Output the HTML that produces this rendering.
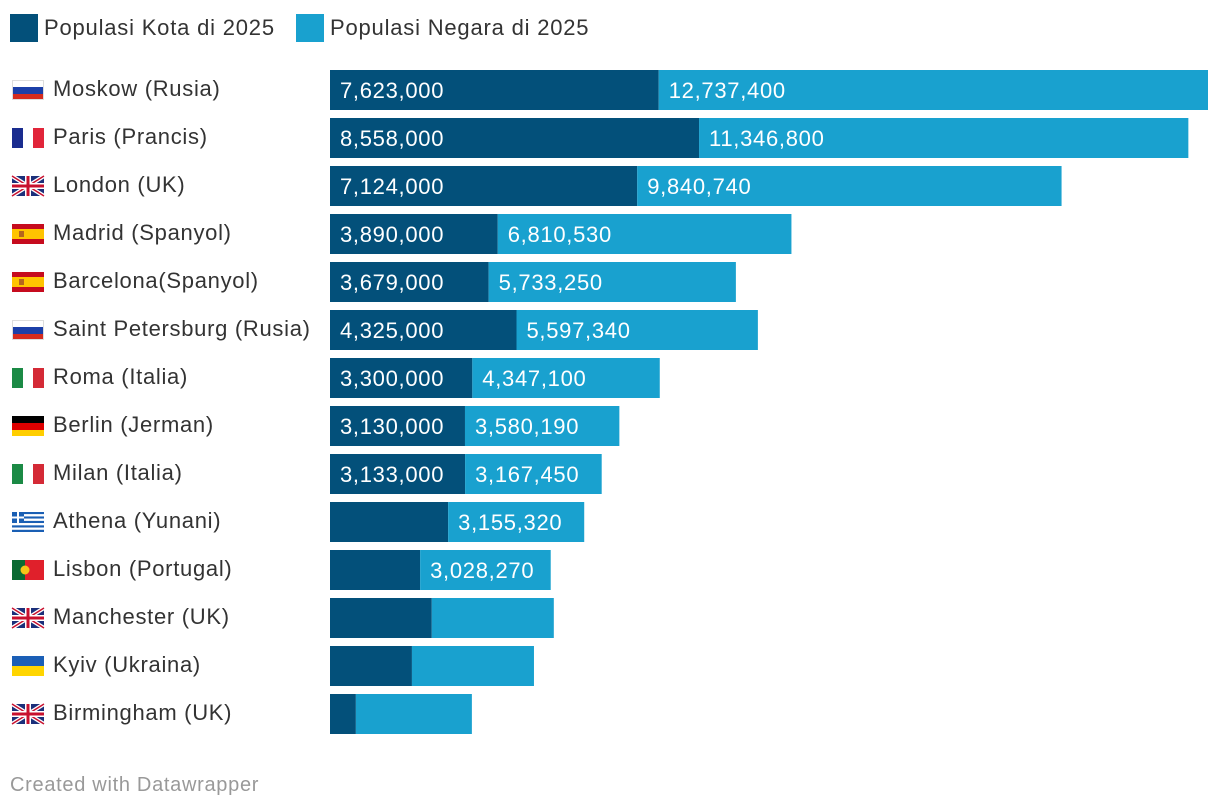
<!DOCTYPE html>
<html><head><meta charset="utf-8">
<style>
body{margin:0;width:1220px;height:810px;background:#fff;font-family:"Liberation Sans",sans-serif;overflow:hidden;position:relative}
.leg{position:absolute;top:14px;display:flex;align-items:center;font-size:22px;color:#333;letter-spacing:0.8px}
.sw{width:28px;height:28px;margin-right:6px}
#foot{position:absolute;left:10px;top:774px;font-size:20px;color:#999;letter-spacing:0.7px}
text{letter-spacing:0.7px}
</style></head><body>
<div class="leg" style="left:10px"><div class="sw" style="background:#03507a"></div>Populasi Kota di 2025</div>
<div class="leg" style="left:296px"><div class="sw" style="background:#19a1cf"></div>Populasi Negara di 2025</div>
<svg id="chart" width="1220" height="760" style="position:absolute;left:0;top:0"></svg>
<div id="foot">Created with Datawrapper</div>
<script>
const categories=["Moskow (Rusia)","Paris (Prancis)","London (UK)","Madrid (Spanyol)","Barcelona(Spanyol)","Saint Petersburg (Rusia)","Roma (Italia)","Berlin (Jerman)","Milan (Italia)","Athena (Yunani)","Lisbon (Portugal)","Manchester (UK)","Kyiv (Ukraina)","Birmingham (UK)"];
const flags=["ru","fr","uk","es","es","ru","it","de","it","gr","pt","uk","ua","uk"];
const cityValues=[7623000,8558000,7124000,3890000,3679000,4325000,3300000,3130000,3133000,2740000,2090000,2360000,1900000,600000];
const countryValues=[12737400,11346800,9840740,6810530,5733250,5597340,4347100,3580190,3167450,3155320,3028270,2830000,2830000,2690000];
const showCityLabel=[1,1,1,1,1,1,1,1,1,0,0,0,0,0];
const showCountryLabel=[1,1,1,1,1,1,1,1,1,1,1,0,0,0];
const NS="http://www.w3.org/2000/svg";
const svg=document.getElementById('chart');
const x0=330,pxPerUnit=878/20360400;
const xs=v=>v*pxPerUnit;
const rowY=i=>70+i*48;
const fmt=v=>v.toLocaleString('en-US');
function el(t,a,p){const e=document.createElementNS(NS,t);for(const k in a)e.setAttribute(k,a[k]);(p||svg).appendChild(e);return e;}
function flag(type,x,y){
 const g=el('g',{transform:`translate(${x},${y})`});
 
 
 const W=32,H=20;
 const r=(a,b,c,d,f)=>el('rect',{x:a,y:b,width:c,height:d,fill:f},g);
 if(type=='ru'){r(0,0,W,7,'#fff');r(0,7,W,7,'#1c3fa8');r(0,14,W,6,'#d52b1e');el('rect',{x:0.5,y:0.5,width:W-1,height:H-1,fill:'none',stroke:'#ddd'},g);}
 else if(type=='fr'){r(0,0,11,H,'#1a2c8f');r(11,0,10,H,'#fff');r(21,0,11,H,'#e1253a');}
 else if(type=='it'){r(0,0,11,H,'#1b8a45');r(11,0,10,H,'#fff');r(21,0,11,H,'#d42a36');}
 else if(type=='de'){r(0,0,W,7,'#000');r(0,7,W,7,'#dd0000');r(0,14,W,6,'#ffce00');}
 else if(type=='es'){r(0,0,W,H,'#c60b1e');r(0,5,W,10,'#ffc400');r(7,7,5,6,'#b5651d');}
 else if(type=='ua'){r(0,0,W,10,'#1b5fb6');r(0,10,W,10,'#ffd500');}
 else if(type=='pt'){r(0,0,13,H,'#0a6a32');r(13,0,19,H,'#e0202b');el('circle',{cx:13,cy:10,r:4.5,fill:'#f5c518'},g);}
 else if(type=='gr'){for(let k=0;k<9;k++)r(0,k*H/9,W,H/9,k%2?'#fff':'#1a5fb4');r(0,0,12,11,'#1a5fb4');r(5,0,2,11,'#fff');r(0,4.5,12,2,'#fff');}
 else if(type=='uk'){r(0,0,W,H,'#1b2f7a');el('path',{d:`M0,0L${W},${H}M${W},0L0,${H}`,stroke:'#fff','stroke-width':4},g);el('path',{d:`M0,0L${W},${H}M${W},0L0,${H}`,stroke:'#c8102e','stroke-width':1.5},g);r(13,0,6,H,'#fff');r(0,7,W,6,'#fff');r(14.5,0,3,H,'#c8102e');r(0,8.5,W,3,'#c8102e');}
}
categories.forEach((c,i)=>{
 const y=rowY(i),cy=y+20;
 flag(flags[i],12,cy-10);
 const t=el('text',{x:53,y:cy+6,'font-size':22,fill:'#333'});t.textContent=c;
 
 
 const w1=xs(cityValues[i]),w2=xs(countryValues[i]);
 const b1=el('rect',{x:x0,y:y,width:w1,height:40,fill:'#03507a'});
 
 
 const b2=el('rect',{x:x0+w1,y:y,width:w2,height:40,fill:'#19a1cf'});
 
 
 if(showCityLabel[i]){const l=el('text',{x:x0+10,y:cy+8,'font-size':22,fill:'#fff'});l.textContent=fmt(cityValues[i]);
  
  }
 if(showCountryLabel[i]){const l=el('text',{x:x0+w1+10,y:cy+8,'font-size':22,fill:'#fff'});l.textContent=fmt(countryValues[i]);
  
  }
});
</script>
</body></html>
